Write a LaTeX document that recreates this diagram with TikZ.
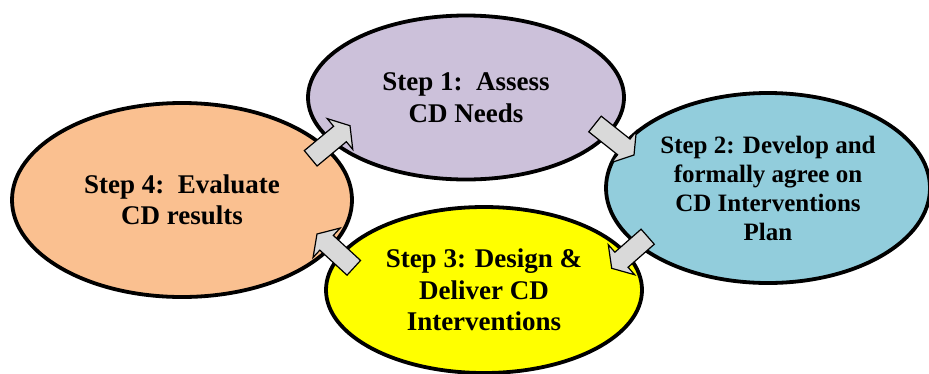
\documentclass[tikz,border=0pt]{standalone}
\usepackage{fontspec}
\setmainfont{Liberation Serif}
\usetikzlibrary{shapes.geometric,calc}
\definecolor{cpurple}{HTML}{CCC1DA}
\definecolor{cblue}{HTML}{92CDDC}
\definecolor{cyellow}{HTML}{FFFF00}
\definecolor{corange}{HTML}{FAC090}
\definecolor{cgray}{HTML}{D9D9D9}
\tikzset{
  stepell/.style={ellipse, draw=black, line width=3.8pt, inner sep=0pt,
    align=center, font=\bfseries\fontsize{27}{31.5}\selectfont},
  blk/.style={draw=black, fill=cgray, line width=1.2pt, line join=miter,
    to path={
      ($(\tikztostart)!10pt!90:(\tikztotarget)$)
      -- ($(\tikztotarget)!13pt!(\tikztostart)!10pt!90:(\tikztotarget)$)
      -- ($(\tikztotarget)!13pt!(\tikztostart)!20pt!90:(\tikztotarget)$)
      -- (\tikztotarget)
      -- ($(\tikztotarget)!13pt!(\tikztostart)!20pt!-90:(\tikztotarget)$)
      -- ($(\tikztotarget)!13pt!(\tikztostart)!10pt!-90:(\tikztotarget)$)
      -- ($(\tikztostart)!10pt!-90:(\tikztotarget)$)
      -- cycle}}
}
\begin{document}
\begin{tikzpicture}[x=1pt,y=-1pt]
\useasboundingbox (0,0) rectangle (929,373);
\node[stepell, fill=cpurple, minimum width=316pt, minimum height=164pt] (s1) at (466,97.5)
  {Step 1:\ \ Assess\\CD Needs};
\node[stepell, fill=cblue, minimum width=324pt, minimum height=190pt,
  font=\bfseries\fontsize{25}{29}\selectfont] (s2) at (768,188)
  {Step 2: Develop and\\formally agree on\\CD Interventions\\Plan};
\node[stepell, fill=cyellow, minimum width=316pt, minimum height=166pt] (s3) at (484,290)
  {Step 3: Design \&\\Deliver CD\\Interventions};
\node[stepell, fill=corange, minimum width=340pt, minimum height=194pt] (s4) at (182,200)
  {Step 4:\ \ Evaluate\\CD results};
\coordinate (a1s) at ($(s4)+(128.7,-41.7)$);
\coordinate (a1e) at ($(s1)+(-116,28.2)$);
\coordinate (a2s) at ($(s1)+(129,26.5)$);
\coordinate (a2e) at ($(s2)+(-134,-33)$);
\coordinate (a3s) at ($(s2)+(-120.3,48.7)$);
\coordinate (a3e) at ($(s3)+(127.7,-21.7)$);
\coordinate (a4s) at ($(s3)+(-130.2,-22.2)$);
\coordinate (a4e) at ($(s4)+(135,34)$);
\draw[blk] (a1s) to (a1e);
\draw[blk] (a2s) to (a2e);
\draw[blk] (a3s) to (a3e);
\draw[blk] (a4s) to (a4e);
\end{tikzpicture}
\end{document}
